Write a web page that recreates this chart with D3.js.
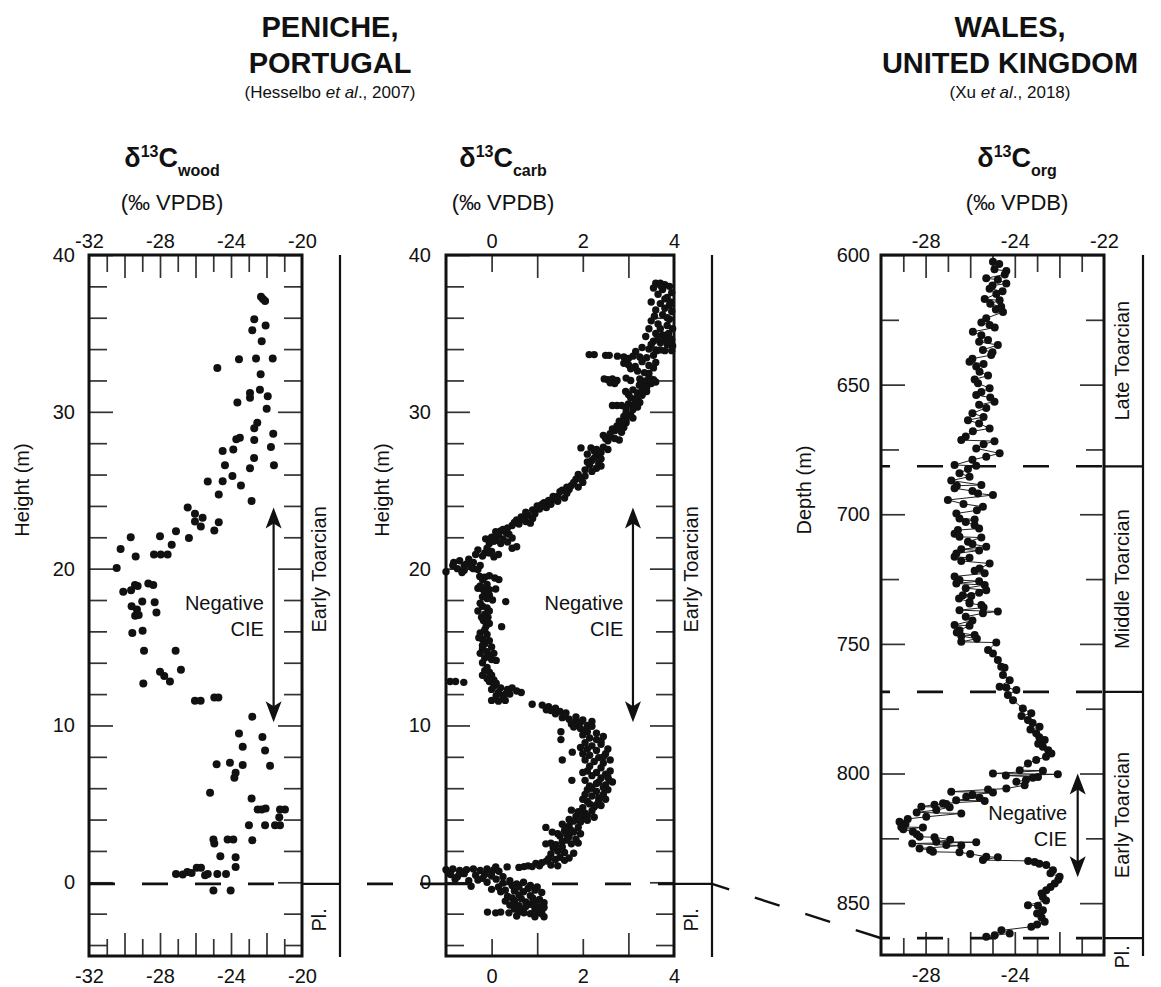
<!DOCTYPE html>
<html>
<head>
<meta charset="utf-8">
<script src="https://cdn.jsdelivr.net/npm/d3@7"></script>
<style>
  body { margin: 0; background: #fff; }
  svg { display: block; font-family: "Liberation Sans", Arial, sans-serif; }
</style>
</head>
<body>
<svg id="chart"></svg>
<script>
// ---- values ----
// Peniche wood: [d13C permil, height m]
var woodPoints = [
  [-22.31,37.34],[-22.2,37.2],[-22.08,37.06],[-22.69,35.9],[-22.05,35.5],[-22.8,35.2],[-22.27,34.5],[-24.77,32.8],
  [-23.55,33.35],[-22.59,33.4],[-21.65,33.4],[-22.33,32.4],[-22.37,31.4],[-22.93,31.2],[-22.93,30.9],[-21.93,31.0],
  [-23.64,30.6],[-21.99,30.2],[-22.52,29.3],[-22.69,28.95],[-21.62,28.6],[-23.5,28.35],[-23.7,28.25],[-22.69,28.2],
  [-24.47,27.5],[-23.87,27.6],[-21.75,27.75],[-24.34,26.6],[-22.7,27.05],[-21.58,26.6],[-22.93,26.4],[-25.31,25.56],
  [-24.47,25.58],[-23.92,25.9],[-23.44,25.3],[-24.69,24.73],[-22.84,24.32],[-26.44,23.9],[-26.03,23.5],[-26.03,23.0],
  [-25.6,23.24],[-25.7,22.68],[-24.94,22.43],[-24.69,22.96],[-27.1,22.39],[-26.37,21.96],[-28.0,22.07],[-29.65,22.0],
  [-27.34,21.53],[-30.22,21.26],[-28.34,20.9],[-27.96,20.9],[-27.57,20.9],[-29.37,20.77],[-30.44,20.04],[-30.07,18.53],
  [-29.63,18.63],[-29.41,18.96],[-29.26,18.9],[-28.66,19.06],[-28.38,18.96],[-29.6,17.6],[-29.3,17.4],[-29.0,17.9],
  [-28.3,17.85],[-28.2,17.2],[-29.4,17.0],[-29.2,17.05],[-29.56,15.9],[-28.98,16.04],[-28.9,14.76],[-27.12,14.76],
  [-28.94,12.67],[-28.0,13.42],[-27.76,13.16],[-27.44,12.8],[-26.82,13.55],[-26.03,11.57],[-25.71,11.57],[-24.94,11.78],
  [-24.71,11.78],[-22.8,10.56],[-23.55,9.48],[-22.23,9.27],[-23.34,8.65],[-22.08,8.41],[-24.81,7.52],[-24.06,7.63],
  [-23.34,7.48],[-21.8,7.43],[-23.74,6.99],[-23.81,6.67],[-25.18,5.71],[-22.84,5.35],[-22.5,4.64],[-22.27,4.64],
  [-22.05,4.7],[-21.24,4.64],[-20.96,4.64],[-21.28,4.15],[-21.52,3.64],[-21.24,3.64],[-22.99,3.64],[-22.08,3.64],
  [-22.8,2.68],[-24.99,2.73],[-24.94,2.47],[-24.19,2.73],[-23.87,2.73],[-24.6,1.66],[-23.74,1.6],[-23.74,0.98],
  [-27.1,0.53],[-26.72,0.49],[-26.46,0.66],[-26.22,0.6],[-25.93,0.92],[-25.69,0.92],[-25.46,0.45],[-25.31,0.53],
  [-24.77,0.53],[-24.28,0.53],[-24.99,-0.53],[-24.02,-0.53]
];

// Peniche carbonate: [d13C permil, height m]
var carbPoints = [
  [3.6,38.2],[3.7,38.2],[3.8,38.1],[3.9,38.0],[3.55,37.9],[3.75,37.8],[3.95,37.6],[3.65,37.5],[3.85,37.3],[3.92,37.0],
  [3.7,36.9],[3.8,36.6],[3.95,36.4],[3.57,36.1],[3.75,36.2],[3.9,35.9],[3.65,35.6],[3.85,35.5],[3.97,35.3],[3.45,35.3],
  [3.38,34.8],[3.6,35.0],[3.75,34.9],[3.9,34.7],[3.55,34.5],[3.7,34.4],[3.85,34.3],[3.97,34.2],[3.3,34.1],[3.45,34.0],
  [3.6,33.95],[3.8,33.9],[3.16,33.85],[3.95,33.9],
  [3.5,37.0],[3.6,36.5],[3.85,36.0],[3.7,35.3],[3.5,35.8],[3.8,37.2],[3.9,36.8],[3.65,34.7],[3.8,34.6],[3.5,34.3],
  [3.95,34.6],[3.72,38.0],[3.88,35.0],[3.62,33.9],[3.7,33.95],
  [2.14,33.65],[2.25,33.65],[2.5,33.6],[2.58,33.6],[2.76,33.55],[2.9,33.5],[3.0,33.4],[3.1,33.55],[3.25,33.5],[3.4,33.45],[3.55,33.6],
  [2.9,33.1],[3.0,33.0],[3.15,32.9],[3.3,33.2],[3.45,32.95],[3.55,32.8],[3.05,32.75],[3.6,33.15],
  [2.47,32.1],[2.55,32.05],[2.65,32.1],[2.75,32.0],[2.95,32.15],[3.05,32.0],[3.25,32.1],[3.35,31.95],[3.45,32.2],[3.55,32.05],
  [2.6,31.85],[2.7,31.8],[3.24,31.7],[3.3,31.9],[3.4,31.75],[3.5,31.8],[3.6,31.9],
  [2.94,31.3],[3.1,31.4],[3.2,31.2],[3.3,31.35],[3.4,31.3],
  [3.35,32.5],[3.2,32.6],[3.45,32.45],[3.4,31.55],[3.3,31.05],[3.0,31.1],[3.2,30.95],[3.35,31.6],[3.1,30.4],[2.95,30.2],
  [3.05,30.9],[3.15,30.7],[3.25,30.6],[3.0,30.5],[3.2,30.3],[3.1,30.15],[2.65,30.4],[2.75,30.4],[2.85,30.4],
  [2.95,29.95],[3.05,29.8],[2.9,29.7],[3.1,29.6],
  [2.8,29.4],[2.95,29.3],[2.75,29.1],[2.9,29.0],[2.7,28.8],[2.85,28.7],
  [2.45,28.5],[2.6,28.4],[2.7,28.3],[2.55,28.15],[2.8,28.2],
  [1.96,27.7],[2.18,27.7],[2.3,27.6],[2.45,27.75],[2.55,27.6],
  [2.1,27.3],[2.3,27.2],[2.4,27.0],[2.2,26.9],[2.35,26.7],[2.15,26.6],[2.3,26.4],[2.4,26.55],
  [1.9,26.0],[2.05,25.9],[1.85,25.7],[2.0,25.5],[1.75,25.3],[1.9,25.2],[1.7,25.05],
  [1.5,24.9],[1.65,24.8],[1.45,24.6],[1.6,24.5],[1.4,24.4],
  [2.95,29.5],[2.85,29.2],[2.65,28.9],[2.6,28.6],[2.8,28.95],[2.5,28.3],[2.4,27.4],[2.25,27.5],[2.25,27.05],[2.1,26.8],
  [2.05,26.3],[2.2,26.2],[1.95,25.75],[1.8,25.5],[1.65,25.2],[1.55,25.0],[1.35,24.6],[1.25,24.35],
  [1.0,24.0],[1.15,24.2],[1.3,24.1],[1.2,23.9],[1.45,24.3],[1.05,23.8],
  [0.95,23.5],[0.8,23.4],[0.65,23.3],[0.9,23.2],[0.55,23.1],[0.75,23.0],[0.6,22.85],[0.45,22.75],[0.85,22.9],
  [0.09,22.35],[0.2,22.4],[0.32,22.3],[0.38,22.2],
  [-0.13,21.9],[0.0,22.0],[0.1,21.8],[0.25,21.9],[0.35,21.7],[0.45,21.95],[-0.05,21.6],[0.2,21.6],[0.45,21.3],[0.55,21.4],
  [-0.3,21.2],[-0.15,21.0],[0.0,21.1],[0.15,20.9],[-0.2,20.8],[0.05,20.75],
  [-0.83,20.4],[-0.7,20.5],[-0.55,20.3],[-0.4,20.4],[-0.25,20.2],[-0.75,20.0],[-0.6,19.9],[-0.45,20.1],[-0.3,19.95],[-0.65,19.75],[-1.0,19.8],
  [1.1,24.1],[0.9,23.75],[0.75,23.6],[0.7,23.15],[0.5,22.95],[0.35,22.6],[0.25,22.5],[0.15,22.15],[0.05,21.75],[-0.1,21.3],
  [-0.05,21.0],[-0.35,20.9],[-0.5,20.6],[-0.6,20.2],[-0.85,20.2],[-0.4,20.0],
  [-0.26,19.5],[-0.15,19.45],[-0.05,19.55],[0.07,19.4],[0.16,19.3],
  [-0.3,18.75],[-0.2,18.7],[-0.05,18.65],[0.09,18.7],
  [-0.15,18.4],[-0.05,18.3],[-0.1,18.1],[0.02,18.0],[0.31,17.9],
  [-0.2,17.6],[-0.1,17.5],[-0.05,17.3],[-0.15,17.1],[-0.08,16.9],[-0.18,16.7],[-0.05,16.5],[-0.12,16.35],[0.22,16.3],
  [-0.25,15.9],[-0.1,15.8],[-0.2,15.5],[-0.05,15.4],[-0.15,15.2],[0.0,15.0],[-0.2,14.9],[-0.1,14.7],[0.05,14.6],[-0.05,14.45],
  [0.0,14.2],[0.1,14.15],
  [-0.15,13.5],[-0.05,13.4],[0.0,13.2],[-0.1,13.0],[0.05,12.9],
  [-0.2,19.3],[-0.1,19.0],[-0.25,18.9],[-0.15,18.5],[-0.2,18.2],[-0.25,17.8],[-0.3,17.3],[-0.22,16.9],[-0.15,16.1],
  [-0.28,15.6],[-0.2,15.1],[-0.25,14.6],[-0.15,14.3],[-0.2,14.0],[-0.1,13.7],[-0.2,13.2],[-0.05,12.8],
  [-0.91,12.8],[-0.79,12.8],[-0.61,12.75],
  [0.05,12.5],[0.2,12.4],[0.35,12.3],[0.15,12.1],[0.4,12.0],[0.55,12.2],[0.25,11.85],
  [0.0,11.6],[0.15,11.55],[0.3,11.6],[0.89,11.35],
  [1.11,11.3],[1.25,11.2],[1.4,11.1],[1.3,10.95],[1.5,10.9],[1.63,10.8],
  [1.55,10.5],[1.7,10.4],[1.85,10.3],[1.75,10.1],[1.95,10.2],[2.1,10.0],
  [0.0,12.3],[0.1,12.7],[0.3,12.0],[0.45,12.4],[0.1,11.9],[0.65,12.1],[1.2,11.0],[1.4,10.75],[1.6,10.6],[1.85,10.55],
  [2.0,10.35],[2.2,10.25],[1.9,10.05],
  [1.8,9.9],[1.95,9.8],[2.05,9.7],[1.52,9.6],[1.52,9.1],
  [2.0,9.4],[2.15,9.2],[2.3,9.1],[2.45,9.3],[2.05,8.9],[2.2,8.7],[2.4,8.8],[2.1,8.5],[2.3,8.4],[2.5,8.2],[1.77,8.3],
  [2.15,8.1],[2.35,7.95],[2.05,7.8],[2.25,7.7],[2.45,7.6],[1.55,7.8],
  [2.1,7.1],[2.3,7.0],[2.5,6.9],[2.2,6.8],[2.4,6.65],[2.58,6.5],[2.05,6.5],[1.76,6.5],[2.3,6.3],[2.5,6.2],[2.15,6.15],
  [2.1,5.9],[2.3,5.8],[2.45,5.6],[2.2,5.5],[2.0,5.3],[2.35,5.2],[2.15,5.0],[2.4,4.9],[2.25,4.8],
  [1.75,4.6],[1.9,4.5],[2.05,4.4],[2.2,4.55],[1.85,4.2],[2.0,4.1],[2.25,4.15],[1.7,4.0],[1.19,3.5],
  [1.55,3.7],[1.7,3.6],[1.9,3.5],[1.6,3.3],[1.8,3.2],[1.95,3.1],[1.33,3.2],[1.5,2.95],[1.7,2.9],[1.85,2.75],
  [1.19,2.45],[1.3,2.5],[1.41,2.4],[1.75,2.45],[1.9,2.5],
  [1.45,2.0],[1.6,1.9],[1.8,1.85],[1.5,1.6],[1.7,1.55],[1.6,1.4],[1.4,1.45],
  [2.2,9.95],[2.1,9.6],[2.3,9.5],[2.4,9.0],[1.95,8.6],[2.55,8.5],[2.45,8.0],[2.0,8.2],[2.6,7.8],[2.15,7.4],[2.4,7.3],
  [2.6,7.1],[2.0,7.0],[2.35,6.4],[2.55,6.7],[2.65,6.4],[2.2,6.0],[2.45,6.05],[2.55,5.9],[2.05,5.6],[2.35,5.4],[2.5,5.3],
  [2.1,5.15],[2.3,4.95],[2.0,4.75],[1.95,4.3],[2.1,4.25],[1.8,3.9],[1.95,3.85],[2.1,3.95],[1.65,3.5],[1.75,3.3],
  [1.45,3.1],[1.65,3.05],[1.55,2.6],[1.65,2.7],[1.35,2.2],[1.55,2.25],[1.3,1.8],[1.25,1.5],[1.2,1.35],[1.05,1.05],[0.6,0.95],
  [0.97,1.2],[1.1,1.25],[1.3,1.1],[1.45,1.05],[0.71,1.0],[0.8,1.05],[0.89,1.0],[0.34,0.98],[0.09,0.98],
  [-1.0,0.8],[-0.85,0.85],[-0.7,0.75],[-0.55,0.8],[-0.4,0.85],[-0.25,0.75],[-0.1,0.85],[0.05,0.8],[0.16,0.7],
  [-0.9,0.5],[-0.6,0.55],[-0.35,0.45],[-0.15,0.5],[0.0,0.4],[-0.75,0.35],
  [-0.8,0.2],[-0.5,0.1],[-0.3,0.15],[-0.1,0.0],[0.1,0.2],[0.25,-0.05],[0.4,0.1],[0.55,-0.1],[0.7,0.0],[0.85,-0.2],[-0.45,-0.25],[0.15,-0.3],
  [0.0,-0.45],[0.3,-0.5],[0.5,-0.55],[0.7,-0.6],[0.95,-0.5],[1.1,-0.65],[0.6,-0.8],[0.85,-0.85],[0.35,-0.9],
  [0.3,-1.2],[0.5,-1.15],[0.75,-1.25],[0.95,-1.2],[1.15,-1.3],[0.4,-1.45],[0.6,-1.5],[0.85,-1.4],[1.05,-1.55],
  [0.5,-1.7],[0.7,-1.75],[0.95,-1.7],[1.1,-1.8],[-0.09,-1.9],[0.09,-1.95],[0.2,-1.9],[0.38,-1.95],[0.71,-1.95],[0.85,-2.0],[1.0,-1.95],[1.1,-2.0],
  [-0.95,0.6],[-0.7,0.55],[-0.2,0.25],[0.0,0.65],[0.25,0.35],[0.45,-0.2],[0.6,-0.3],[0.8,-0.4],[1.0,-0.3],[0.2,-0.6],
  [0.45,-1.0],[0.65,-1.05],[0.9,-1.0],[1.05,-1.1],[0.5,-1.3],[0.75,-1.55],[0.95,-1.45],[1.15,-1.6],[0.6,-1.9],[1.15,-2.2],
  [0.95,-2.2],[0.55,-2.15]
];

// Wales organic carbon: [d13C permil, depth m]
var orgPoints = [
  [-24.98,602.6],[-24.91,605.5],[-24.38,606.2],[-25.28,609],[-24.76,609.5],[-24.38,611],[-25.13,613],[-24.83,615],
  [-25.35,617],[-24.68,617.5],[-24.61,620],[-24.53,622],[-25.28,624.4],[-25.13,627],[-25.88,629.6],[-25.5,631],
  [-25.2,632.8],[-24.76,634.7],[-25.43,636.6],[-25.06,638.6],[-26.03,641.2],[-25.73,643],[-25.58,645],[-25.65,649.5],
  [-25.13,651.4],[-25.73,654],[-24.91,656.6],[-25.28,659],[-26.1,663.7],[-25.13,666.9],[-25.88,668],[-26.4,671.4],
  [-24.91,671.8],[-25.73,674.6],[-24.68,676.5],[-25.28,677.8],[-26.7,681],[-25.73,681.3],[-26.48,684.2],[-26.03,685.5],
  [-26.85,687],[-25.5,688.7],[-26.7,690],[-25.65,692],[-24.98,692.6],[-27.0,694.5],[-25.43,697.1],[-26.62,699.7],
  [-26.48,701.6],[-25.8,702],[-25.8,704.2],[-26.55,706.1],[-26.48,708.7],[-25.5,709],[-26.1,710.6],[-25.28,712.5],
  [-26.62,715.1],[-26.7,716.4],[-26.03,716.8],[-25.13,719],[-25.58,720.9],[-25.35,722.8],[-26.48,725.4],[-26.62,726.7],
  [-25.35,727.3],[-25.28,729.3],[-26.33,731.2],[-25.95,731.5],[-26.03,733.8],[-26.03,734.4],[-25.5,735],[-26.48,737],
  [-24.76,737.5],[-25.43,738.2],[-26.7,742.7],[-26.03,743],[-26.48,744.7],[-25.8,746.6],[-26.4,747],[-26.4,749.2],
  [-24.83,749.5],[-25.2,752.4],[-24.98,753.7],[-24.76,756.2],[-24.61,758.8],[-24.46,759.2],[-24.53,762],[-24.23,764],
  [-24.68,766.5],[-24.38,766.8],[-23.93,767.8],[-24.31,769.7],[-24.08,771.7],[-23.64,774.9],[-23.26,776.8],[-23.41,779.4],
  [-22.89,782],[-23.04,784.5],[-22.66,787.1],[-22.74,789.7],[-22.36,792.3],[-23.04,794.8],[-23.41,796.1],[-23.78,798.7],
  [-22.74,798.9],[-24.98,800],[-22.07,800.3],[-22.96,801.3],[-23.19,801.6],[-23.93,803.2],[-23.56,804.5],[-24.38,805.8],
  [-26.85,807],[-24.98,807.3],[-26.18,809],[-25.58,809.3],[-26.63,810.3],[-25.35,810.6],[-27.22,811.5],[-27.07,811.8],
  [-28.19,812.8],[-26.92,813],[-27.52,814.1],[-26.4,815.4],[-27.97,816.7],[-29.17,818.6],[-29.09,820.6],[-28.12,820.8],
  [-28.57,822.5],[-28.27,824.4],[-27.6,824.6],[-27.52,826.3],[-25.73,826.5],[-27.07,827.6],[-26.4,827.8],[-28.27,828.9],
  [-27.67,830.2],[-26.48,830.4],[-25.28,832.1],[-24.76,832.3],[-25.43,833.4],[-23.11,834.1],[-22.59,835.3],[-22.29,837.3],
  [-21.99,839.8],[-22.21,842.4],[-22.59,845],[-22.74,847.6],[-23.41,850.8],[-22.96,851],[-22.74,852.7],[-22.66,857.2],
  [-23.26,859.1],[-24.23,861.7],[-25.28,863],
  [-24.7,603.5],[-24.45,607.5],[-25.0,611.8],[-24.55,614],[-25.1,618.8],[-24.85,621],[-25.5,626],[-24.9,628],
  [-25.6,633.5],[-25.0,637.5],[-25.9,640],[-25.4,642],[-25.2,646.5],[-25.8,648],[-25.5,652.8],[-25.1,655],
  [-25.6,657.8],[-25.9,661],[-25.4,662.5],[-25.6,665],[-26.2,670],[-25.4,673],[-25.9,679],[-26.1,682.5],
  [-26.6,689],[-25.9,691],[-26.3,696],[-25.7,698.5],[-26.2,703],[-25.6,705.5],[-26.7,707.5],[-25.9,711.5],
  [-26.4,713.5],[-25.6,714],[-26.4,718],[-25.8,721.8],[-26.7,724],[-25.6,725.8],[-26.2,728.5],[-25.6,730.3],
  [-26.5,732.5],[-25.4,736],[-26.2,739.5],[-25.9,741],[-26.6,745.6],[-25.7,748],
  [-23.7,777.8],[-23.2,780.5],[-23.3,783],[-22.9,786],[-22.95,788.5],[-22.5,791],[-22.6,793.5],[-24.4,800.8],
  [-23.5,802.5],[-25.2,806.2],[-25.9,808.2],[-27.6,812],[-28.4,815],[-28.8,817.5],[-28.9,819.5],[-29.0,821.5],
  [-28.4,823.4],[-26.9,825.5],[-28.6,827],[-27.8,829.5],[-26.0,831],[-23.4,833.7],[-22.9,834.8],[-22.4,838.5],
  [-22.05,841],[-22.4,843.8],[-22.8,846.3],[-22.6,849],[-23.0,854],[-22.8,855.5],[-23.0,858.2],[-24.6,860.5],[-24.9,862.4]
];

// tick values and tick text
var woodTickLabels = [-32, -28, -24, -20];
var woodTicksLong = [-30, -28, -26, -24, -22];
var woodTicksShort = [-31, -29, -27, -25, -23, -21];
var carbTickLabels = [0, 2, 4];
var carbTicksLong = [1, 3];
var carbTicksShort = [0, 2];
var orgTopTickValues = [-28, -24, -20];
var orgTopTickText = ["-28", "-24", "-22"];
var orgBottomTickLabels = [-28, -24];
var orgTicksLong = [-28, -26, -24, -22];
var orgTicksShort = [-29, -27, -25, -23, -21];

var heightLabels = [0, 10, 20, 30, 40];
var heightMinor = [-4, -2, 2, 4, 6, 8, 12, 14, 16, 18, 22, 24, 26, 28, 32, 34, 36, 38];
var depthLabels = [600, 650, 700, 750, 800, 850];
var depthMinor = [625, 675, 725, 775, 825];

// stages (names and boundaries, top to bottom)
var penicheStages = ["Early Toarcian", "Pl."];
var penicheBounds = [40, -0.1, -4.7];
var walesStages = ["Late Toarcian", "Middle Toarcian", "Early Toarcian", "Pl."];
var walesBounds = [600, 681.5, 768.5, 863.5, 878];

// negative CIE interval
var cieHeight = [10.2, 23.9];
var cieDepth = [800, 840];

// ---- layout ----
var w = 1161, h = 987;
var ink = "#111";
var font = "'Liberation Sans', Arial, sans-serif";

var svg = d3.select("#chart").attr("width", w).attr("height", h);
svg.append("rect").attr("width", w).attr("height", h).attr("fill", "#fff");

// samples of the Wales core are joined in depth order
orgPoints.sort(function(a, b) { return a[1] - b[1]; });

var panels = [
  { pts: woodPoints, xDomain: [-32, -20], yDomain: [40, -4.7], left: 89, right: 302, top: 255, bottom: 956, col: 340,
    topVals: woodTickLabels, topText: null, bottomVals: woodTickLabels, xLong: woodTicksLong, xShort: woodTicksShort,
    yLabels: heightLabels, yMinor: heightMinor, yPad: 14, stages: penicheStages, bounds: penicheBounds,
    r: 4, line: false, arrowX: -21.6, cie: cieHeight, cieTextX: -22.15, yTitle: "Height (m)", yTitleX: 22,
    sub: "wood", subX: 172 },
  { pts: carbPoints, xDomain: [-1, 4], yDomain: [40, -4.7], left: 446, right: 674, top: 255, bottom: 956, col: 712,
    topVals: carbTickLabels, topText: null, bottomVals: carbTickLabels, xLong: carbTicksLong, xShort: carbTicksShort,
    yLabels: heightLabels, yMinor: heightMinor, yPad: 15, stages: penicheStages, bounds: penicheBounds,
    r: 3.7, line: false, arrowX: 3.1, cie: cieHeight, cieTextX: 2.89, yTitle: "Height (m)", yTitleX: 382,
    sub: "carb", subX: 503 },
  { pts: orgPoints, xDomain: [-30, -20], yDomain: [600, 870], left: 881, right: 1104, top: 255, bottom: 955, col: 1143,
    topVals: orgTopTickValues, topText: orgTopTickText, bottomVals: orgBottomTickLabels, xLong: orgTicksLong, xShort: orgTicksShort,
    yLabels: depthLabels, yMinor: depthMinor, yPad: 11, stages: walesStages, bounds: walesBounds,
    r: 4, line: true, arrowX: -21.18, cie: cieDepth, cieTextX: -21.65, yTitle: "Depth (m)", yTitleX: 804,
    sub: "org", subX: 1017 }
];

function styleAxis(g) {
  g.select(".domain").remove();
  g.attr("font-family", font).attr("font-size", 20);
  g.selectAll("line").attr("stroke", "#333").attr("stroke-width", 1.7);
  g.selectAll("text").attr("fill", ink);
  return g;
}

function ticks(axisFn, scale, vals, size, tr, fmt, pad) {
  var a = axisFn(scale).tickValues(vals).tickSize(size).tickPadding(pad || 0)
    .tickFormat(fmt ? fmt : "");
  return styleAxis(svg.append("g").attr("transform", tr).call(a));
}

function plain(d) { return String(d); }

function drawPanel(p) {
  var x = d3.scaleLinear().domain(p.xDomain).range([p.left, p.right]);
  var y = d3.scaleLinear().domain(p.yDomain).range([p.top, p.bottom]);
  p.x = x; p.y = y;

  //Draw x ticks on top and bottom, pointing inward
  ticks(d3.axisTop, x, p.xShort, -17, "translate(0," + p.top + ")");
  ticks(d3.axisTop, x, p.xLong, -23, "translate(0," + p.top + ")");
  ticks(d3.axisBottom, x, p.xShort, -17, "translate(0," + p.bottom + ")");
  ticks(d3.axisBottom, x, p.xLong, -23, "translate(0," + p.bottom + ")");
  ticks(d3.axisTop, x, p.topVals, 0, "translate(0," + p.top + ")",
    p.topText ? function(d, i) { return p.topText[i]; } : plain, 7);
  ticks(d3.axisBottom, x, p.bottomVals, 0, "translate(0," + p.bottom + ")", plain, 13);

  //Draw y ticks on both sides
  ticks(d3.axisLeft, y, p.yMinor, -18, "translate(" + p.left + ",0)");
  ticks(d3.axisLeft, y, p.yLabels, -24, "translate(" + p.left + ",0)", plain, p.yPad);
  ticks(d3.axisRight, y, p.yMinor, -18, "translate(" + p.right + ",0)");
  ticks(d3.axisRight, y, p.yLabels, -24, "translate(" + p.right + ",0)");

  // thin line joining the samples (Wales only)
  if (p.line) {
    var valueline = d3.line()
      .x(function(d) { return x(d[0]); })
      .y(function(d) { return y(d[1]); });
    svg.append("path").datum(p.pts)
      .attr("d", valueline)
      .attr("fill", "none")
      .attr("stroke", "#222")
      .attr("stroke-width", 1);
  }

  svg.append("g").selectAll("circle")
    .data(p.pts)
    .enter()
    .append("circle")
    .attr("cx", function(d) { return x(d[0]); })
    .attr("cy", function(d) { return y(d[1]); })
    .attr("r", p.r)
    .attr("fill", ink);

  // plot frame
  svg.append("rect")
    .attr("x", p.left).attr("y", p.top)
    .attr("width", p.right - p.left).attr("height", p.bottom - p.top)
    .attr("fill", "none").attr("stroke", ink).attr("stroke-width", 3);

  // stage column
  svg.append("line")
    .attr("x1", p.col).attr("x2", p.col)
    .attr("y1", p.top).attr("y2", p.bottom + 1)
    .attr("stroke", ink).attr("stroke-width", 2.2);

  var inner = p.bounds.slice(1, -1);
  inner.forEach(function(b) {
    svg.append("line")
      .attr("x1", p.right).attr("x2", p.col)
      .attr("y1", y(b)).attr("y2", y(b))
      .attr("stroke", ink).attr("stroke-width", 2.2);
    svg.append("line")
      .attr("x1", p.left).attr("x2", p.right)
      .attr("y1", y(b)).attr("y2", y(b))
      .attr("stroke", ink).attr("stroke-width", 2.6)
      .attr("stroke-dasharray", "26,27")
      .attr("stroke-dashoffset", p.line ? 17 : 0);
  });

  p.stages.forEach(function(name, i) {
    var mid = (y(p.bounds[i]) + y(p.bounds[i + 1])) / 2;
    var cx = (p.right + p.col) / 2 - 2;
    svg.append("text")
      .attr("transform", "translate(" + cx + "," + mid + ") rotate(-90)")
      .attr("text-anchor", "middle")
      .attr("dy", "0.35em")
      .attr("font-size", 20)
      .attr("fill", ink)
      .text(name);
  });

  // negative CIE arrow
  var ax = x(p.arrowX);
  var yTopTip = Math.min(y(p.cie[0]), y(p.cie[1]));
  var yBotTip = Math.max(y(p.cie[0]), y(p.cie[1]));
  svg.append("line")
    .attr("x1", ax).attr("x2", ax)
    .attr("y1", yTopTip + 12).attr("y2", yBotTip - 12)
    .attr("stroke", ink).attr("stroke-width", 2.2);
  svg.append("path")
    .attr("d", "M" + ax + "," + yTopTip + "L" + (ax + 8) + "," + (yTopTip + 21) + "L" + ax + "," + (yTopTip + 16) +
      "L" + (ax - 8) + "," + (yTopTip + 21) + "Z")
    .attr("fill", ink);
  svg.append("path")
    .attr("d", "M" + ax + "," + yBotTip + "L" + (ax + 8) + "," + (yBotTip - 21) + "L" + ax + "," + (yBotTip - 16) +
      "L" + (ax - 8) + "," + (yBotTip - 21) + "Z")
    .attr("fill", ink);

  var midY = (yTopTip + yBotTip) / 2;
  var cieText = svg.append("text")
    .attr("x", x(p.cieTextX)).attr("y", midY - 5)
    .attr("text-anchor", "end").attr("font-size", 20).attr("fill", ink);
  cieText.append("tspan").attr("x", x(p.cieTextX)).text("Negative");
  cieText.append("tspan").attr("x", x(p.cieTextX)).attr("dy", 26).text("CIE");

  // y axis title
  svg.append("text")
    .attr("transform", "translate(" + p.yTitleX + ",490) rotate(-90)")
    .attr("text-anchor", "middle").attr("dy", "0.35em")
    .attr("font-size", 20).attr("fill", ink)
    .text(p.yTitle);

  // isotope header
  var hd = svg.append("text")
    .attr("x", p.subX).attr("y", 167)
    .attr("text-anchor", "middle").attr("font-weight", "bold")
    .attr("font-size", 27).attr("fill", ink);
  hd.append("tspan").text("δ");
  hd.append("tspan").attr("font-size", 16).attr("dy", -10).text("13");
  hd.append("tspan").attr("dy", 10).text("C");
  hd.append("tspan").attr("font-size", 16).attr("dy", 9).text(p.sub);
  svg.append("text")
    .attr("x", p.subX).attr("y", 210)
    .attr("text-anchor", "middle").attr("font-size", 22).attr("fill", ink)
    .text("(‰ VPDB)");
}

panels.forEach(drawPanel);

// correlation lines between sections
var p1 = panels[0], p2 = panels[1], p3 = panels[2];
var yBase = p1.y(penicheBounds[1]);
svg.append("line")
  .attr("x1", p1.col).attr("x2", p2.left)
  .attr("y1", yBase).attr("y2", yBase)
  .attr("stroke", ink).attr("stroke-width", 2.6)
  .attr("stroke-dasharray", "26,27").attr("stroke-dashoffset", 26);
svg.append("line")
  .attr("x1", p2.col).attr("x2", p3.left)
  .attr("y1", p2.y(penicheBounds[1])).attr("y2", p3.y(walesBounds[3]))
  .attr("stroke", ink).attr("stroke-width", 2.4)
  .attr("stroke-dasharray", "26,27").attr("stroke-dashoffset", 8);

// section titles
function title(cx, lines, cite) {
  svg.append("text").attr("x", cx).attr("y", 37).attr("text-anchor", "middle")
    .attr("font-weight", "bold").attr("font-size", 29).attr("fill", ink).text(lines[0]);
  svg.append("text").attr("x", cx).attr("y", 73).attr("text-anchor", "middle")
    .attr("font-weight", "bold").attr("font-size", 29).attr("fill", ink).text(lines[1]);
  var t = svg.append("text").attr("x", cx).attr("y", 98).attr("text-anchor", "middle")
    .attr("font-size", 17).attr("fill", ink);
  t.append("tspan").text("(" + cite[0] + " ");
  t.append("tspan").attr("font-style", "italic").text("et al");
  t.append("tspan").text("., " + cite[1] + ")");
}
title(330, ["PENICHE,", "PORTUGAL"], ["Hesselbo", "2007"]);
title(1010, ["WALES,", "UNITED KINGDOM"], ["Xu", "2018"]);
</script>
</body>
</html>
